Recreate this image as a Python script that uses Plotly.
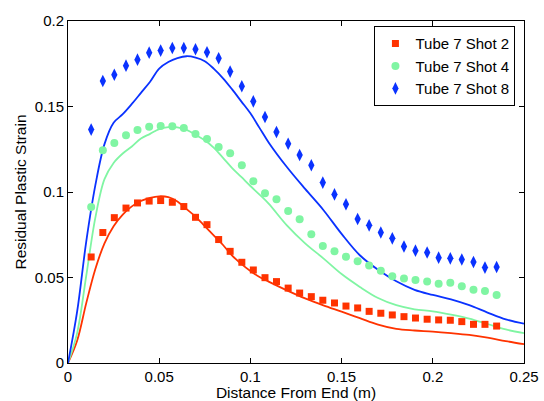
import plotly.graph_objects as go

# Measured positions (m)
dist = [0.0127, 0.0191, 0.0254, 0.0318, 0.0381, 0.0445, 0.0508, 0.0572, 0.0635,
        0.0699, 0.0762, 0.0826, 0.0889, 0.0953, 0.1016, 0.1080, 0.1143, 0.1207,
        0.1270, 0.1334, 0.1397, 0.1461, 0.1524, 0.1588, 0.1651, 0.1715, 0.1778,
        0.1842, 0.1905, 0.1969, 0.2032, 0.2096, 0.2159, 0.2223, 0.2286, 0.2350]

shot2 = [0.062, 0.0763, 0.085, 0.0906, 0.0936, 0.0947, 0.095, 0.094, 0.0915,
         0.0852, 0.0809, 0.0722, 0.0653, 0.0589, 0.0544, 0.0499, 0.0476, 0.0438,
         0.0409, 0.0388, 0.0367, 0.0351, 0.0333, 0.0322, 0.0302, 0.0291, 0.0281,
         0.0271, 0.0263, 0.0256, 0.0252, 0.025, 0.0242, 0.0226, 0.0226, 0.0216]

shot4 = [0.0912, 0.1244, 0.1287, 0.1332, 0.1363, 0.1382, 0.1386, 0.1384, 0.1374,
         0.1339, 0.131, 0.1263, 0.1226, 0.1156, 0.1063, 0.0992, 0.0957, 0.0889,
         0.084, 0.0753, 0.0684, 0.0653, 0.0622, 0.0595, 0.057, 0.054, 0.0507,
         0.0494, 0.0485, 0.0476, 0.0464, 0.047, 0.0449, 0.0429, 0.0421, 0.0398]

shot8 = [0.1365, 0.1649, 0.1686, 0.1739, 0.1774, 0.1815, 0.1827, 0.1842, 0.1842,
         0.1835, 0.1817, 0.1782, 0.1704, 0.1618, 0.153, 0.1439, 0.1351, 0.1282,
         0.1216, 0.1156, 0.1055, 0.0986, 0.0928, 0.0842, 0.0805, 0.0763, 0.0729,
         0.0681, 0.0657, 0.0646, 0.0616, 0.0612, 0.0605, 0.0591, 0.0558, 0.0561]

# Model curves
xc = [0, 0.005, 0.01, 0.015, 0.02, 0.025, 0.03, 0.035, 0.04, 0.045, 0.05, 0.055,
      0.06, 0.065, 0.07, 0.075, 0.08, 0.085, 0.09, 0.095, 0.10, 0.105, 0.11, 0.12,
      0.13, 0.14, 0.15, 0.16, 0.17, 0.18, 0.19, 0.20, 0.21, 0.22, 0.23, 0.24, 0.25]

fit2 = [0, 0.013, 0.035, 0.055, 0.070, 0.080, 0.0868, 0.0916, 0.0948, 0.0966,
        0.0975, 0.097, 0.0945, 0.090, 0.0855, 0.080, 0.0745, 0.069, 0.0628, 0.058,
        0.0538, 0.0503, 0.0476, 0.0425, 0.0378, 0.0337, 0.030, 0.0262, 0.0224,
        0.0199, 0.019, 0.0184, 0.0175, 0.0164, 0.0148, 0.0128, 0.011]

fit4 = [0, 0.0175, 0.051, 0.085, 0.1075, 0.117, 0.1225, 0.1266, 0.1313, 0.134,
        0.1368, 0.1379, 0.1378, 0.1363, 0.1334, 0.1302, 0.1258, 0.120, 0.114,
        0.1088, 0.1035, 0.0985, 0.0932, 0.0805, 0.070, 0.0612, 0.052, 0.0445,
        0.038, 0.0338, 0.0314, 0.0302, 0.0283, 0.026, 0.0228, 0.0196, 0.0175]

fit8 = [0, 0.030, 0.071, 0.104, 0.128, 0.1405, 0.1455, 0.1515, 0.158, 0.1645,
        0.1722, 0.176, 0.1783, 0.1794, 0.1786, 0.1765, 0.172, 0.1665, 0.160,
        0.153, 0.146, 0.1375, 0.129, 0.1146, 0.1018, 0.0895, 0.0755, 0.063,
        0.0545, 0.0478, 0.0428, 0.0398, 0.0372, 0.0338, 0.0295, 0.0255, 0.023]

names = ["Tube 7 Shot 2", "Tube 7 Shot 4", "Tube 7 Shot 8"]
colors = ["#ff3300", "#80f5a3", "#0a32ff"]
symbols = ["square", "circle", "diamond-tall"]
sizes = [7, 8, 9]

fig = go.Figure()
for fit, c in zip([fit2, fit4, fit8], colors):
    fig.add_trace(go.Scatter(x=xc, y=fit, mode="lines", line=dict(color=c, width=1.8, shape="spline"),
                             showlegend=False, hoverinfo="skip"))
for data, n, c, s, sz in zip([shot2, shot4, shot8], names, colors, symbols, sizes):
    fig.add_trace(go.Scatter(x=dist, y=data, mode="markers", name=n,
                             marker=dict(color=c, symbol=s, size=sz, line=dict(width=0))))

font = "Liberation Sans, Arial, Helvetica, sans-serif"
axis_common = dict(showline=True, linecolor="black", linewidth=1, mirror="ticks",
                   ticks="inside", ticklen=5, tickcolor="black", showgrid=False,
                   zeroline=False, tickfont=dict(size=15, color="black", family=font))

fig.update_layout(
    width=544, height=401,
    margin=dict(l=68, r=20, t=21, b=38),
    paper_bgcolor="white", plot_bgcolor="white",
    font=dict(family=font, size=16, color="black"),
    xaxis=dict(range=[0, 0.25], tickvals=[0, 0.05, 0.1, 0.15, 0.2, 0.25],
               ticktext=["0", "0.05", "0.1", "0.15", "0.2", "0.25"],
               title=dict(text="Distance From End (m)", font=dict(size=15.5), standoff=0),
               automargin=False, **axis_common),
    yaxis=dict(range=[0, 0.2], tickvals=[0, 0.05, 0.1, 0.15, 0.2],
               ticktext=["0", "0.05", "0.1", "0.15", "0.2"],
               title=dict(text="Residual Plastic Strain", font=dict(size=15.5), standoff=4),
               automargin=False, **axis_common),
    legend=dict(x=0.672, y=0.985, xanchor="left", yanchor="top",
                bordercolor="black", borderwidth=1, bgcolor="white",
                font=dict(size=15, family=font), tracegroupgap=0, itemwidth=30),
    showlegend=True,
)

fig.write_html("out.html")
